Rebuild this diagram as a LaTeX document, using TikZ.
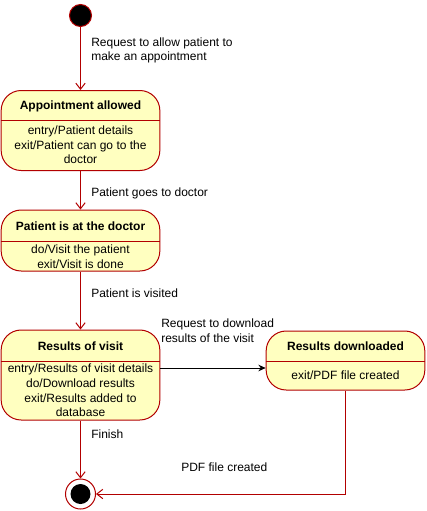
\documentclass[tikz,border=0pt]{standalone}
\usepackage{fontspec}
\setmainfont{Liberation Sans}
\usetikzlibrary{arrows.meta}
\definecolor{stroke}{HTML}{B20000}
\definecolor{statefill}{HTML}{FFFFC0}
\tikzset{
  every node/.style={font=\fontsize{9}{11}\selectfont, inner sep=0pt},
  statebox/.style={draw=stroke, fill=statefill, rounded corners=15pt, line width=0.75pt},
  divider/.style={draw=stroke, line width=0.75pt},
  trans/.style={draw=stroke, line width=0.75pt, -{Straight Barb[length=4.5pt,width=7pt]}},
  transplain/.style={draw=stroke, line width=0.75pt},
  blacktrans/.style={draw=black, line width=0.75pt, -{Stealth[length=5.5pt,width=5pt]}},
  lbl/.style={anchor=west, align=left},
  body/.style={align=center},
  title/.style={font=\fontsize{9}{11}\selectfont\bfseries}
}
\begin{document}
\begin{tikzpicture}[x=0.75pt,y=-0.75pt]
\useasboundingbox (0,0) rectangle (426,511);

% initial state
\node[circle, fill=black, draw=stroke, line width=0.75pt, minimum size=16.5pt] (init) at (80.5,15.5) {};

% Appointment allowed
\node[statebox, minimum width=119pt, minimum height=60pt] (aa) at (80.5,130.5) {};
\draw[divider] (aa.west |- 0,120.5) -- (aa.east |- 0,120.5);
\node[title] (aat) at (80.5,106) {Appointment allowed};
\node[body] (aab) at (80.5,145) {entry/Patient details\\exit/Patient can go to the\\doctor};

% Patient is at the doctor
\node[statebox, minimum width=119pt, minimum height=45.75pt] (pd) at (80.5,240.5) {};
\draw[divider] (pd.west |- 0,241) -- (pd.east |- 0,241);
\node[title] (pdt) at (80.5,226) {Patient is at the doctor};
\node[body] (pdb) at (80.5,256.5) {do/Visit the patient\\exit/Visit is done};

% Results of visit
\node[statebox, minimum width=119pt, minimum height=67.5pt] (rv) at (80.5,375) {};
\draw[divider] (rv.west |- 0,361) -- (rv.east |- 0,361);
\node[title] (rvt) at (80.5,346) {Results of visit};
\node[body] (rvb) at (80.5,390.5) {entry/Results of visit details\\do/Download results\\exit/Results added to\\database};

% Results downloaded
\node[statebox, minimum width=119pt, minimum height=44.25pt] (rd) at (345.5,360.5) {};
\draw[divider] (rd.west |- 0,361) -- (rd.east |- 0,361);
\node[title] (rdt) at (345.5,346) {Results downloaded};
\node[body] (rdb) at (345.5,375) {exit/PDF file created};

% final state
\node[circle, draw=stroke, fill=white, line width=0.75pt, minimum size=22.5pt] (fin) at (80.5,494) {};
\node[circle, fill=black, minimum size=15pt] (fininner) at (fin.center) {};

% transitions
\draw[trans] (init) -- (aa);
\node[lbl] (l1) at (91,50.5) {Request to allow patient to\\make an appointment};
\draw[trans] (aa) -- (pd);
\node[lbl] (l2) at (91,193) {Patient goes to doctor};
\draw[trans] (pd) -- (rv);
\node[lbl] (l3) at (91,293) {Patient is visited};
\coordinate (rvout) at (rv.east |- 0,368);
\coordinate (rdin) at (rd.west |- 0,368);
\draw[blacktrans] (rvout) -- (rdin);
\node[lbl] (l4) at (161,331) {Request to download\\results of the visit};
\draw[trans] (rv) -- (fin);
\node[lbl] (l5) at (91,434) {Finish};
\coordinate (corner) at (rd.south |- fin);
\draw[transplain] (rd.south) -- (corner);
\draw[trans] (corner) -- (fin.east);
\node[lbl] (l6) at (181,467) {PDF file created};
\end{tikzpicture}
\end{document}
